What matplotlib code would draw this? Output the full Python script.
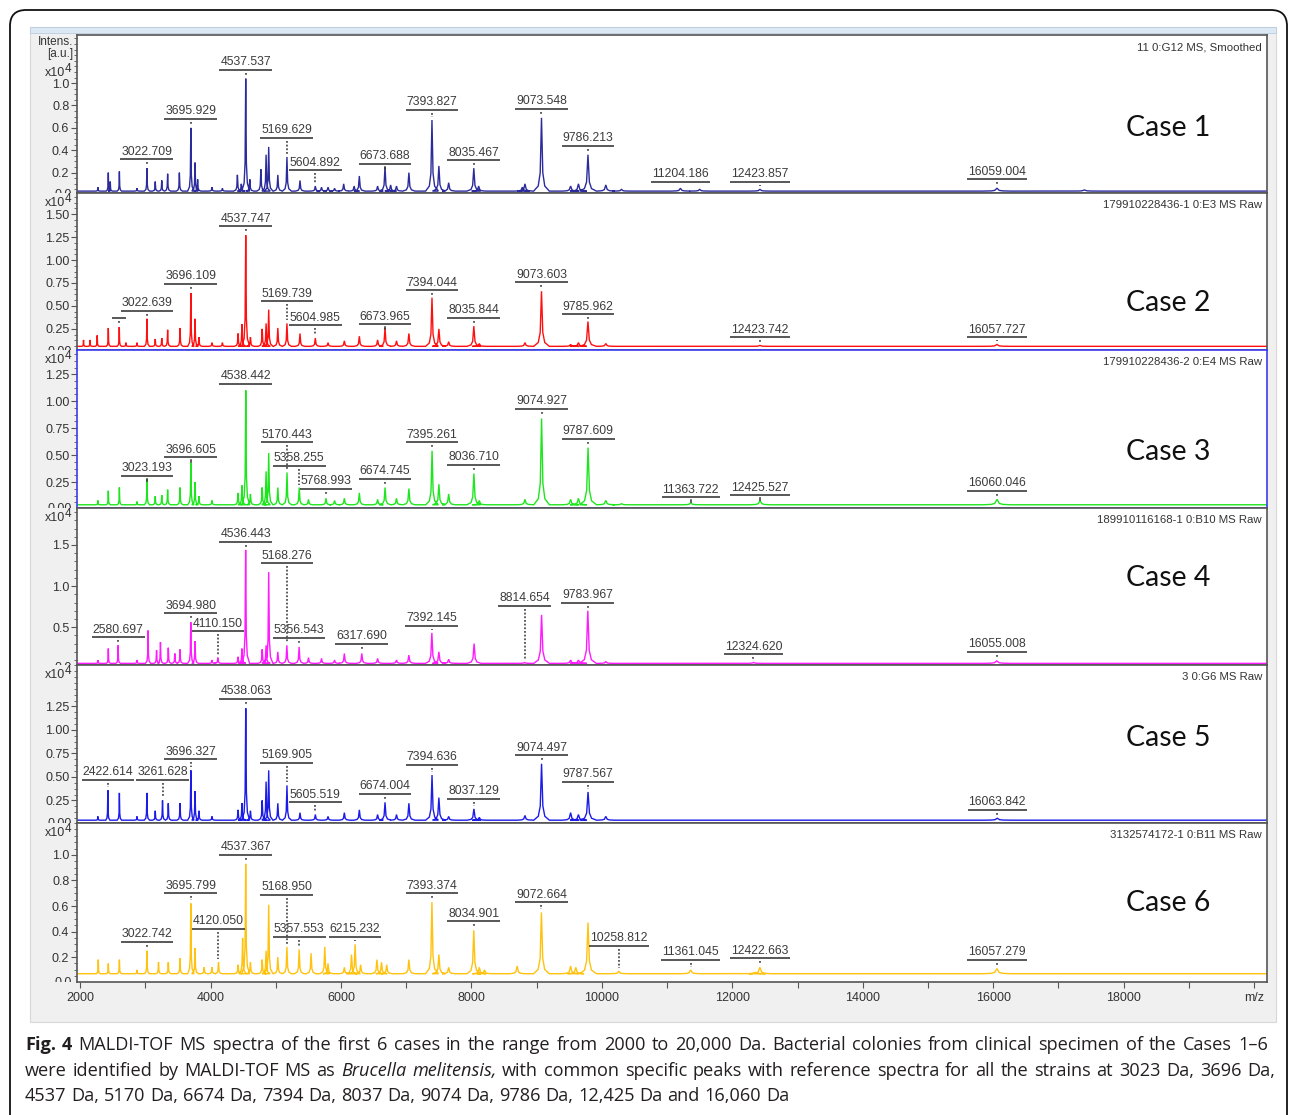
import matplotlib
matplotlib.use('Agg')
import matplotlib.pyplot as plt
from matplotlib.patches import Rectangle, FancyBboxPatch
from matplotlib.transforms import Bbox, TransformedBbox, offset_copy, blended_transform_factory
import numpy as np

# ---------------- data (intensity in x10^4 a.u.) ----------------
case_names = ['Case 1', 'Case 2', 'Case 3', 'Case 4', 'Case 5', 'Case 6']
run_names = ['11 0:G12 MS, Smoothed', '179910228436-1 0:E3 MS Raw', '179910228436-2 0:E4 MS Raw',
             '189910116168-1 0:B10 MS Raw', '3 0:G6 MS Raw', '3132574172-1 0:B11 MS Raw']
colors = ['#2b2b9c', '#ff1010', '#1ee61e', '#ff1aff', '#1c1ce8', '#ffc20e']
baselines = [0.035, 0.06, 0.04, 0.06, 0.04, 0.07]

mz_1 = [2270, 2430, 2460, 2600, 2870, 3022.709, 3150, 3250, 3340, 3520, 3695.929, 3760, 3800, 4020,
        4180, 4410, 4470, 4537.537, 4600, 4770, 4850, 4890, 5030, 5169.629, 5370, 5604.892, 5700,
        5800, 5900, 6040, 6200, 6280, 6560, 6673.688, 6760, 6850, 7040, 7393.827, 7500, 7650,
        8035.467, 8110, 8780, 8820, 9073.548, 9520, 9640, 9786.213, 10060, 10300, 11204.186,
        11500, 12423.857, 16059.004, 17400]
int_1 = [0.07, 0.20, 0.12, 0.21, 0.06, 0.24, 0.12, 0.13, 0.19, 0.20, 0.60, 0.29, 0.14, 0.07,
         0.06, 0.18, 0.10, 1.04, 0.14, 0.23, 0.36, 0.43, 0.18, 0.34, 0.13, 0.08, 0.07,
         0.07, 0.06, 0.10, 0.08, 0.17, 0.08, 0.25, 0.09, 0.08, 0.20, 0.67, 0.26, 0.11,
         0.24, 0.08, 0.07, 0.10, 0.69, 0.08, 0.10, 0.36, 0.09, 0.05, 0.06,
         0.05, 0.05, 0.06, 0.045]

mz_2 = [2050, 2150, 2260, 2430, 2598, 2700, 2870, 3022.639, 3150, 3250, 3340, 3530, 3696.109, 3760,
        3820, 4020, 4180, 4420, 4480, 4537.747, 4610, 4790, 4850, 4890, 5030, 5169.739, 5370,
        5604.985, 5800, 6050, 6280, 6560, 6673.965, 6850, 7040, 7394.044, 7500, 7650, 8035.844,
        8120, 8820, 9073.603, 9520, 9640, 9785.962, 10060, 12423.742, 16057.727]
int_2 = [0.13, 0.13, 0.18, 0.26, 0.27, 0.10, 0.10, 0.36, 0.14, 0.15, 0.24, 0.26, 0.64, 0.36,
         0.16, 0.10, 0.10, 0.20, 0.30, 1.27, 0.16, 0.25, 0.31, 0.46, 0.26, 0.31, 0.20,
         0.15, 0.10, 0.12, 0.17, 0.13, 0.26, 0.12, 0.20, 0.59, 0.25, 0.11, 0.28,
         0.09, 0.10, 0.66, 0.08, 0.10, 0.33, 0.09, 0.07, 0.08]

mz_3 = [2270, 2430, 2600, 2870, 3023.193, 3150, 3250, 3340, 3530, 3696.605, 3760, 3820, 4020, 4420,
        4480, 4538.442, 4610, 4790, 4850, 4890, 5030, 5170.443, 5358.255, 5500, 5768.993, 5900,
        6050, 6280, 6560, 6674.745, 6850, 7040, 7395.261, 7500, 7650, 8036.710, 8120, 8820,
        9074.927, 9520, 9640, 9787.609, 10060, 10300, 11363.722, 12425.527, 16060.046]
int_3 = [0.08, 0.17, 0.20, 0.07, 0.28, 0.12, 0.13, 0.18, 0.20, 0.43, 0.25, 0.12, 0.08, 0.15,
         0.22, 1.10, 0.14, 0.20, 0.35, 0.52, 0.20, 0.34, 0.20, 0.09, 0.10, 0.08,
         0.10, 0.15, 0.09, 0.20, 0.10, 0.19, 0.54, 0.23, 0.14, 0.33, 0.08, 0.09,
         0.84, 0.09, 0.10, 0.57, 0.08, 0.05, 0.06, 0.08, 0.09]

mz_4 = [2270, 2430, 2580.697, 2870, 3040, 3170, 3230, 3350, 3450, 3530, 3694.980, 3760, 4020,
        4110.150, 4420, 4480, 4536.443, 4790, 4850, 4890, 5030, 5168.276, 5356.543, 5500, 5700,
        5900, 6050, 6317.690, 6560, 6850, 7040, 7392.145, 7500, 7650, 8040, 8814.654, 9075, 9520,
        9640, 9783.967, 10060, 12324.620, 16055.008]
int_4 = [0.10, 0.24, 0.28, 0.10, 0.46, 0.22, 0.32, 0.25, 0.18, 0.23, 0.56, 0.33, 0.10,
         0.13, 0.14, 0.24, 1.44, 0.23, 0.28, 1.17, 0.20, 0.28, 0.26, 0.13, 0.12,
         0.10, 0.18, 0.18, 0.12, 0.10, 0.16, 0.43, 0.20, 0.11, 0.30, 0.07, 0.65, 0.10,
         0.10, 0.70, 0.08, 0.07, 0.09]

mz_5 = [2270, 2422.614, 2600, 2870, 3022, 3150, 3261.628, 3350, 3530, 3696.327, 3760, 3820, 4020,
        4420, 4480, 4538.063, 4610, 4790, 4850, 4890, 5030, 5169.905, 5370, 5605.519, 5800, 6050,
        6280, 6560, 6674.004, 6850, 7040, 7394.636, 7500, 7650, 8037.129, 8120, 8820, 9074.497,
        9520, 9640, 9787.567, 10060, 16063.842]
int_5 = [0.08, 0.36, 0.33, 0.08, 0.33, 0.14, 0.25, 0.22, 0.22, 0.57, 0.35, 0.14, 0.08,
         0.15, 0.22, 1.23, 0.14, 0.25, 0.45, 0.57, 0.22, 0.41, 0.12, 0.10, 0.08, 0.12,
         0.15, 0.10, 0.23, 0.10, 0.22, 0.52, 0.28, 0.08, 0.16, 0.07, 0.09, 0.64,
         0.12, 0.10, 0.34, 0.08, 0.06]

mz_6 = [2276, 2430, 2600, 2870, 3022.742, 3200, 3350, 3530, 3695.799, 3760, 3900, 4020, 4120.050,
        4420, 4490, 4537.367, 4610, 4790, 4850, 4890, 5030, 5168.950, 5357.553, 5540, 5750, 5800,
        6050, 6160, 6215.232, 6300, 6550, 6620, 6700, 7040, 7393.374, 7500, 7650, 8034.901, 8120,
        8200, 8700, 9072.664, 9520, 9600, 9787, 10258.812, 11361.045, 12350, 12422.663, 16057.279]
int_6 = [0.18, 0.15, 0.18, 0.10, 0.25, 0.16, 0.16, 0.19, 0.62, 0.27, 0.12, 0.12, 0.16,
         0.14, 0.35, 0.93, 0.16, 0.18, 0.25, 0.61, 0.20, 0.28, 0.26, 0.23, 0.28, 0.15,
         0.12, 0.22, 0.30, 0.14, 0.18, 0.16, 0.14, 0.18, 0.63, 0.22, 0.12, 0.41, 0.12,
         0.10, 0.13, 0.55, 0.13, 0.12, 0.47, 0.09, 0.10, 0.08, 0.12, 0.11]

# annotated peaks (text) and the height of their underline
lab_1 = ['3022.709', '3695.929', '4537.537', '5169.629', '5604.892', '6673.688', '7393.827',
         '8035.467', '9073.548', '9786.213', '11204.186', '12423.857', '16059.004']
laby_1 = [0.32, 0.68, 1.12, 0.51, 0.22, 0.28, 0.76, 0.31, 0.77, 0.44, 0.12, 0.12, 0.14]
lab_2 = ['', '3022.639', '3696.109', '4537.747', '5169.739', '5604.985', '6673.965', '7394.044',
         '8035.844', '9073.603', '9785.962', '12423.742', '16057.727']
labmz_2_blank = 2598
laby_2 = [0.37, 0.45, 0.74, 1.37, 0.55, 0.29, 0.30, 0.67, 0.37, 0.76, 0.41, 0.16, 0.16]
lab_3 = ['3023.193', '3696.605', '4538.442', '5170.443', '5358.255', '5768.993', '6674.745',
         '7395.261', '8036.710', '9074.927', '9787.609', '11363.722', '12425.527', '16060.046']
laby_3 = [0.31, 0.48, 1.16, 0.62, 0.40, 0.19, 0.28, 0.62, 0.41, 0.93, 0.65, 0.11, 0.13, 0.17]
lab_4 = ['2580.697', '3694.980', '4110.150', '4536.443', '5168.276', '5356.543', '6317.690',
         '7392.145', '8814.654', '9783.967', '12324.620', '16055.008']
laby_4 = [0.38, 0.67, 0.45, 1.54, 1.28, 0.37, 0.30, 0.52, 0.76, 0.80, 0.17, 0.20]
lab_5 = ['2422.614', '3261.628', '3696.327', '4538.063', '5169.905', '5605.519', '6674.004',
         '7394.636', '8037.129', '9074.497', '9787.567', '16063.842']
laby_5 = [0.47, 0.47, 0.69, 1.33, 0.65, 0.23, 0.32, 0.63, 0.27, 0.73, 0.45, 0.15]
lab_6 = ['3022.742', '3695.799', '4120.050', '4537.367', '5168.950', '5357.553', '6215.232',
         '7393.374', '8034.901', '9072.664', '10258.812', '11361.045', '12422.663', '16057.279']
laby_6 = [0.32, 0.70, 0.42, 1.00, 0.69, 0.36, 0.36, 0.70, 0.48, 0.63, 0.29, 0.18, 0.19, 0.18]

# y axis of each panel
y_lo = [0.018, 0.02, 0.01, 0.04, 0.01, 0.005]
y_hi = [1.43, 1.73, 1.475, 1.95, 1.69, 1.25]
y_step = [0.2, 0.25, 0.25, 0.5, 0.25, 0.2]
y_last = [1.0, 1.5, 1.25, 1.5, 1.25, 1.0]
y_fmt = ['%.1f', '%.2f', '%.2f', '%.1f', '%.2f', '%.1f']
case_y = [0.41, 0.30, 0.354, 0.554, 0.538, 0.497]
mult_dy = [38, 10, 10, 10, 10, 10]

all_mz = [mz_1, mz_2, mz_3, mz_4, mz_5, mz_6]
all_int = [int_1, int_2, int_3, int_4, int_5, int_6]
all_lab = [lab_1, lab_2, lab_3, lab_4, lab_5, lab_6]
all_laby = [laby_1, laby_2, laby_3, laby_4, laby_5, laby_6]

# ---------------- figure ----------------
W, H = 1290, 1115
fig = plt.figure(figsize=(W / 100, H / 100), dpi=100)
fig.patch.set_facecolor('white')
SANS = 'Liberation Sans'


def fx(x):
    return x / W


def fy(y):
    return 1 - y / H


# window chrome
fig.patches.append(Rectangle((fx(30), fy(1022)), fx(1276) - fx(30), (1022 - 27) / H,
                             transform=fig.transFigure, fc='#f0f0f0', ec='#d8d8d8', lw=0.8, zorder=-2))
fig.patches.append(Rectangle((fx(30), fy(33)), fx(1276) - fx(30), 6 / H,
                             transform=fig.transFigure, fc='#dce8f4', ec='#b9cde0', lw=0.6, zorder=-2))
fig.patches.append(FancyBboxPatch((10 / 100, (H - 1160) / 100), 1277 / 100, 1150 / 100,
                                  boxstyle='round,pad=0,rounding_size=0.16', transform=fig.dpi_scale_trans,
                                  fill=False, ec='#111111', lw=1.3, zorder=-1))

edges = [35, 193, 350, 508, 665, 823, 982]
X0, X1 = 1950, 20200
r = fig.canvas.get_renderer()

for i in range(6):
    top, bot = edges[i], edges[i + 1]
    ax = fig.add_axes([fx(77), fy(bot), fx(1267) - fx(77), (bot - top) / H])
    ax.set_xlim(X0, X1)
    ax.set_ylim(y_lo[i], y_hi[i])
    spine_c = '#3b3bf0' if i == 2 else '#555555'
    for s in ax.spines.values():
        s.set_color(spine_c)
        s.set_linewidth(1.2)

    # spectrum drawn as a polyline through every read peak (narrow tip, wider foot)
    base = baselines[i]
    order = np.argsort(all_mz[i])
    xs, ys = [X0], [base]
    for k in order:
        m, h = all_mz[i][k], all_int[i][k]
        hw = 0.0022 * m
        d = h - base
        xs += [m - 6 * hw, m - 2.5 * hw, m - hw, m, m + hw, m + 2.5 * hw, m + 6 * hw]
        ys += [base, base + 0.07 * d, base + 0.25 * d, h, base + 0.25 * d, base + 0.07 * d, base]
    xs.append(X1)
    ys.append(base)
    ax.plot(xs, ys, color=colors[i], lw=1.0, solid_joinstyle='miter')

    # y axis
    ticks = np.arange(y_step[i], y_last[i] + 1e-9, y_step[i])
    ax.set_yticks(ticks)
    ax.set_yticklabels([y_fmt[i] % t for t in ticks], fontsize=9, family=SANS, color='#333333')
    ax.yaxis.set_minor_locator(plt.MultipleLocator(y_step[i] / 4 if i != 3 else 0.1))
    ax.tick_params(axis='y', which='major', direction='out', length=4, width=0.8, color='#555555', pad=1.5)
    ax.tick_params(axis='y', which='minor', direction='out', length=2, width=0.6, color='#555555')
    zt = ax.text(-0.004, 0.0, y_fmt[i] % 0, transform=blended_transform_factory(ax.transAxes, ax.transData),
                 ha='right', va='center', fontsize=9, family=SANS, color='#333333', clip_on=True)
    zt.set_clip_box(TransformedBbox(Bbox([[-0.2, 0], [1, 1]]), ax.transAxes))

    if i < 5:
        ax.tick_params(axis='x', bottom=False, labelbottom=False)
    else:
        xt = list(range(2000, 20001, 1000))
        ax.set_xticks(xt)
        ax.set_xticklabels([('m/z' if t == 20000 else str(t)) if t % 2000 == 0 else '' for t in xt],
                           fontsize=9, family=SANS, color='#333333')
        ax.tick_params(axis='x', direction='out', length=4, width=0.8, color='#555555', pad=3)

    # "x10^4" multiplier
    my = top + mult_dy[i]
    fig.text(fx(65), fy(my), 'x10', ha='right', va='center', fontsize=9, family=SANS, color='#333333')
    fig.text(fx(65), fy(my - 4), '4', ha='left', va='center', fontsize=8.5, family=SANS, color='#333333')

    ax.text(0.9958, 1, run_names[i], transform=offset_copy(ax.transAxes, fig=fig, y=-7, units='dots'),
            ha='right', va='top', fontsize=8.2, family=SANS, color='#333333')
    ax.text(0.917, case_y[i], case_names[i], transform=ax.transAxes, ha='center', va='center',
            fontsize=20.5, family='Lato', color='#111111')

    # peak labels with underline and dotted leader
    px2y = (y_hi[i] - y_lo[i]) / (bot - top)
    tr = offset_copy(ax.transData, fig=fig, y=1.5, units='dots')
    for txt, ly in zip(all_lab[i], all_laby[i]):
        m = float(txt) if txt else labmz_2_blank
        k = int(np.argmin(np.abs(np.array(all_mz[i]) - m)))
        pk = all_int[i][k]
        if txt:
            t = ax.text(m, ly, txt, transform=tr, ha='center', va='bottom', fontsize=8.8, family=SANS,
                        color='#3c3c3c')
            bb = t.get_window_extent(r)
            inv = ax.transData.inverted()
            ux0 = inv.transform((bb.x0 - 1, 0))[0]
            ux1 = inv.transform((bb.x1 + 1, 0))[0]
        else:
            ux0, ux1 = m - 110, m + 110
        ax.plot([ux0, ux1], [ly, ly], color='#4a4a4a', lw=1.3, solid_capstyle='butt')
        y_a, y_b = ly - 3 * px2y, pk + 3 * px2y
        if y_a > y_b:
            ax.plot([m, m], [y_a, y_b], color='#333333', lw=1.1, ls=(0, (1.2, 1.2)))
        else:
            ax.plot([m, m], [ly - 3 * px2y, ly - 5 * px2y], color='#333333', lw=1.1)

fig.text(fx(73), fy(42), 'Intens.', ha='right', va='center', fontsize=8.5, family=SANS, color='#333333')
fig.text(fx(73), fy(54), '[a.u.]', ha='right', va='center', fontsize=8.5, family=SANS, color='#333333')

# ---------------- caption (justified like the source) ----------------
CAP = 'Open Sans'
cap_lines = [
    [('Fig. 4', 'bold', 'normal'),
     ('MALDI-TOF MS spectra of the first 6 cases in the range from 2000 to 20,000 Da. Bacterial colonies '
      'from clinical specimen of the Cases 1\u20136', 'normal', 'normal')],
    [('were identified by MALDI-TOF MS as', 'normal', 'normal'), ('Brucella melitensis,', 'normal', 'italic'),
     ('with common specific peaks with reference spectra for all the strains at 3023 Da, 3696 Da,',
      'normal', 'normal')],
    [('4537 Da, 5170 Da, 6674 Da, 7394 Da, 8037 Da, 9074 Da, 9786 Da, 12,425 Da and 16,060 Da',
      'normal', 'normal')],
]
cap_base = [1050, 1076, 1101]
cap_right = [1268, 1275, None]
cap_size = 13.1


def text_w(s, **kw):
    t = fig.text(0, 0, s, **kw)
    w = t.get_window_extent(r).width
    t.remove()
    return w


for line, yb, xr in zip(cap_lines, cap_base, cap_right):
    words = []
    for s, wgt, sty in line:
        for wd in s.split(' '):
            words.append((wd, dict(fontsize=cap_size, family=CAP, weight=wgt, style=sty, color='#231f20')))
    widths = [text_w(wd, **kw) for wd, kw in words]
    sp = text_w('a a', **words[-1][1]) - text_w('aa', **words[-1][1])
    if xr is not None:
        sp = max(sp * 0.8, (xr - 25 - sum(widths)) / (len(words) - 1))
    x = 25
    for (wd, kw), w in zip(words, widths):
        fig.text(fx(x), fy(yb), wd, ha='left', va='baseline', **kw)
        x += w + sp

fig.savefig('out.png', dpi=100)
